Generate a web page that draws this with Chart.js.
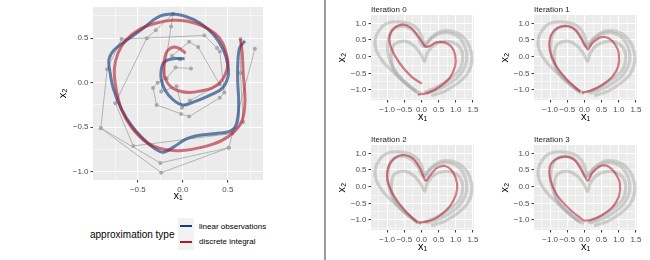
<!DOCTYPE html>
<html>
<head>
<meta charset="utf-8">
<script src="https://cdn.jsdelivr.net/npm/chart.js@4.4.1/dist/chart.umd.min.js"></script>
<style>
  html, body { margin: 0; padding: 0; background: #fff; }
  #wrap { position: relative; width: 650px; height: 260px; overflow: hidden; font-family: "Liberation Sans", Arial, sans-serif; }
  canvas { position: absolute; }
  .divider { position: absolute; left: 324px; top: 0; width: 2px; height: 260px; background: #9c9c9c; }
  .leg-title { position: absolute; left: 90px; top: 229px; font-size: 10px; line-height: 12px; color: #000; white-space: nowrap; }
  .leg-key { position: absolute; left: 178px; width: 16px; height: 16px; background: #F2F2F2; }
  .leg-key span { position: absolute; left: 2px; top: 7px; width: 12px; height: 2px; }
  .leg-label { position: absolute; left: 199px; font-size: 8px; line-height: 10px; color: #000; white-space: nowrap; }
</style>
</head>
<body>
<div id="wrap">
  <canvas id="main" width="300" height="205" style="left:0;top:0"></canvas>
  <canvas id="it0" width="160" height="130" style="left:330px;top:0"></canvas>
  <canvas id="it1" width="160" height="130" style="left:493px;top:0"></canvas>
  <canvas id="it2" width="160" height="130" style="left:330px;top:130px"></canvas>
  <canvas id="it3" width="160" height="130" style="left:493px;top:130px"></canvas>
  <div class="divider"></div>
  <div class="leg-title">approximation type</div>
  <div class="leg-key" style="top:218px"><span style="background:#163E7D"></span></div>
  <div class="leg-key" style="top:234px"><span style="background:#B2182B"></span></div>
  <div class="leg-label" style="top:221.5px">linear observations</div>
  <div class="leg-label" style="top:236.5px">discrete integral</div>
</div>
<script>
const FONT = '"Liberation Sans", Arial, sans-serif';

// left panel: spiral
const linearObs = [[0.02,0.27],[-0.11,0.27],[-0.21,0.23],[-0.24,0.14],[-0.24,0.04],[-0.20,-0.08],[-0.11,-0.19],[0.00,-0.25],[0.11,-0.22],[0.28,-0.15],[0.43,-0.07],[0.50,0.06],[0.50,0.20],[0.45,0.37],[0.34,0.54],[0.19,0.67],[0.04,0.74],[-0.11,0.77],[-0.27,0.74],[-0.44,0.61],[-0.59,0.50],[-0.76,0.37],[-0.82,0.26],[-0.81,0.13],[-0.77,-0.07],[-0.68,-0.30],[-0.57,-0.48],[-0.44,-0.63],[-0.31,-0.74],[-0.22,-0.78],[-0.10,-0.72],[0.04,-0.63],[0.19,-0.59],[0.37,-0.57],[0.53,-0.54],[0.60,-0.46],[0.62,-0.22],[0.61,0.00],[0.61,0.20],[0.63,0.39],[0.69,0.47]];
const discreteInt = [[0.03,0.33],[-0.03,0.38],[-0.10,0.40],[-0.17,0.36],[-0.20,0.28],[-0.21,0.17],[-0.20,0.06],[-0.14,-0.04],[-0.05,-0.09],[0.08,-0.11],[0.21,-0.09],[0.32,-0.06],[0.41,0.00],[0.47,0.09],[0.50,0.20],[0.49,0.30],[0.44,0.45],[0.36,0.55],[0.21,0.64],[0.05,0.69],[-0.12,0.70],[-0.29,0.67],[-0.48,0.60],[-0.63,0.48],[-0.72,0.33],[-0.76,0.15],[-0.74,-0.07],[-0.68,-0.30],[-0.57,-0.50],[-0.40,-0.67],[-0.20,-0.75],[0.00,-0.76],[0.23,-0.72],[0.43,-0.65],[0.58,-0.54],[0.66,-0.42],[0.69,-0.20],[0.67,0.11],[0.66,0.33],[0.64,0.49]];
const obsPath1 = [[0.09,0.16],[-0.08,0.17],[-0.18,0.05],[-0.28,0.00],[-0.33,-0.06],[-0.29,-0.25],[-0.02,-0.35],[0.07,-0.38],[0.41,-0.17],[0.46,-0.11],[0.41,0.35],[0.38,0.39],[0.24,0.53],[-0.68,0.49],[-0.84,0.15],[-0.91,-0.51],[-0.24,-1.01],[0.51,-0.73],[0.80,0.38]];
const obsPath2 = [[-0.03,0.26],[-0.12,0.30],[0.07,0.46],[0.17,0.40],[0.41,-0.02],[0.08,-0.20],[-0.01,-0.28],[-0.07,-0.04],[-0.24,-0.10],[-0.13,0.63],[-0.11,0.77],[-0.30,0.59],[-0.40,0.50],[-0.75,-0.23],[-0.55,-0.71],[0.55,-0.57],[0.67,-0.44],[0.64,0.11],[0.64,0.49]];
const obsPath3 = [[-0.91,-0.51],[-0.25,-0.90],[0.51,-0.73]];

// right panels: hearts (grey = same observations in every panel)
const heartGrey1 = [[-0.11,-1.09],[-0.40,-0.84],[-0.79,-0.49],[-1.13,-0.14],[-1.32,0.21],[-1.35,0.51],[-1.22,0.81],[-0.98,1.01],[-0.50,1.03],[-0.20,0.91],[-0.01,0.66],[0.11,0.31],[0.28,0.56],[0.57,0.76],[0.91,0.76],[1.20,0.61],[1.40,0.31],[1.47,-0.09],[1.35,-0.49],[1.06,-0.79],[0.67,-1.04],[0.28,-1.17]];
const heartGrey2 = [[-0.16,-1.04],[-0.50,-0.74],[-0.79,-0.39],[-0.96,0.01],[-0.98,0.41],[-0.88,0.76],[-0.64,0.91],[-0.35,0.86],[-0.11,0.61],[0.04,0.31],[0.23,0.51],[0.52,0.69],[0.82,0.71],[1.11,0.56],[1.28,0.26],[1.32,-0.09],[1.20,-0.44],[0.91,-0.74],[0.52,-0.97],[0.14,-1.09]];
const heartGrey3 = [[-0.01,-1.11],[-0.30,-0.94],[-0.64,-0.64],[-0.83,-0.34],[-0.88,0.01],[-0.83,0.31],[-0.69,0.43],[-0.45,0.46],[-0.20,0.31],[-0.01,0.06],[0.09,-0.14],[0.17,0.11],[0.38,0.36],[0.67,0.46],[0.96,0.41],[1.16,0.21],[1.20,-0.09],[1.11,-0.39],[0.86,-0.64],[0.48,-0.89],[0.09,-1.07]];
const iterRed0 = [[0.01,-0.81],[-0.30,-0.59],[-0.64,-0.19],[-0.88,0.26],[-0.93,0.61],[-0.79,0.86],[-0.54,0.96],[-0.30,0.86],[-0.06,0.56],[0.11,0.31],[0.23,0.31],[0.43,0.43],[0.67,0.43],[0.86,0.31],[0.98,0.06],[0.98,-0.29],[0.82,-0.64],[0.52,-0.91],[0.18,-1.09],[-0.11,-1.14]];
const iterRed1 = [[-0.12,-1.05],[-0.50,-0.70],[-0.84,-0.25],[-1.01,0.20],[-0.99,0.60],[-0.80,0.85],[-0.50,0.92],[-0.26,0.80],[-0.07,0.50],[0.10,0.22],[0.22,0.40],[0.47,0.58],[0.71,0.55],[0.90,0.35],[1.00,0.10],[0.98,-0.30],[0.81,-0.60],[0.47,-0.88],[0.17,-1.02],[-0.07,-1.08]];
const iterRed2 = [[-0.11,-1.08],[-0.45,-0.75],[-0.79,-0.30],[-0.99,0.20],[-0.96,0.60],[-0.79,0.85],[-0.55,0.95],[-0.25,0.85],[-0.04,0.55],[0.12,0.18],[0.24,0.32],[0.43,0.55],[0.68,0.62],[0.87,0.50],[1.00,0.25],[1.04,-0.05],[0.94,-0.40],[0.73,-0.70],[0.41,-0.95],[0.14,-1.05],[-0.09,-1.08]];
const iterRed3 = [[-0.02,-1.02],[-0.41,-0.70],[-0.80,-0.25],[-0.99,0.20],[-1.01,0.60],[-0.84,0.82],[-0.55,0.90],[-0.29,0.80],[-0.10,0.52],[0.10,0.18],[0.22,0.40],[0.47,0.62],[0.71,0.60],[0.90,0.40],[1.03,0.10],[1.00,-0.30],[0.81,-0.62],[0.47,-0.88],[0.17,-1.00],[-0.02,-1.02]];

// tick breaks
const mainXBreaks = [-0.5, 0, 0.5];
const mainYBreaks = [-1, -0.5, 0, 0.5];
const panelXBreaks = [-1, -0.5, 0, 0.5, 1, 1.5];
const panelYBreaks = [-1, -0.5, 0, 0.5, 1];
const iterTitles = ['Iteration 0', 'Iteration 1', 'Iteration 2', 'Iteration 3'];

const xy = pts => pts.map(([x, y]) => ({x, y}));
const fmt = v => (v < 0 ? '\u2212' : '') + Math.abs(v).toFixed(1);

function buildTicks(breaks, min, max) {
    const vals = breaks.slice();
    breaks.forEach(b => {
        [b - 0.25, b + 0.25].forEach(m => {
            if (m > min && m < max && !vals.some(v => Math.abs(v - m) < 1e-9)) vals.push(m);
        });
    });
    return vals.sort((a, b) => a - b).map(value => ({value}));
}

function makeAxis(min, max, breaks, size, titleText, titlePad) {
    const major = v => breaks.some(b => Math.abs(b - v) < 1e-9);
    return {
        type: 'linear', min, max,
        afterBuildTicks: s => { s.ticks = buildTicks(breaks, min, max); },
        afterFit: s => { if (s.isHorizontal()) s.height = size; else s.width = size; },
        ticks: {
            autoSkip: false, maxRotation: 0, includeBounds: false, padding: 2,
            color: '#4D4D4D', font: {family: FONT, size: 8},
            callback: v => major(v) ? fmt(v) : ''
        },
        grid: {
            color: '#FFFFFF',
            lineWidth: c => (c.tick && major(c.tick.value)) ? 1.1 : 0.55,
            tickColor: c => (c.tick && major(c.tick.value)) ? '#333333' : 'rgba(0,0,0,0)',
            tickLength: 2.5, tickWidth: 1
        },
        border: {display: false},
        title: {display: true, text: titleText, color: '#000', font: {family: FONT, size: 11}, padding: titlePad}
    };
}

// grey panel background
const panelBg = {
    id: 'panelBg',
    beforeDraw(chart) {
        const {ctx, chartArea: a} = chart;
        ctx.save();
        ctx.fillStyle = '#EBEBEB';
        ctx.fillRect(a.left, a.top, a.right - a.left, a.bottom - a.top);
        ctx.restore();
    }
};

function curve(pts, color, width, tension) {
    return {data: xy(pts), showLine: true, borderColor: color, borderWidth: width, pointRadius: 0, tension: tension, fill: false};
}

function obsLine(pts) {
    return {data: xy(pts), showLine: true, borderColor: '#A3A3A3', borderWidth: 0.8, pointRadius: 2, pointBackgroundColor: '#A8A8A8', pointBorderWidth: 0, tension: 0};
}

new Chart(document.getElementById('main'), {
    type: 'scatter',
    data: {
        datasets: [
            curve(discreteInt, 'rgba(178,24,43,0.6)', 3, 0.35),
            curve(linearObs, 'rgba(30,70,130,0.68)', 3, 0.35),
            obsLine(obsPath1),
            obsLine(obsPath2),
            obsLine(obsPath3)
        ]
    },
    options: {
        responsive: false, animation: false, events: [], devicePixelRatio: 1,
        layout: {padding: {left: 55, top: 5, right: 37, bottom: 0}},
        scales: {
            x: makeAxis(-0.997, 0.89, mainXBreaks, 25, 'x\u2081', {top: 0, bottom: 2}),
            y: makeAxis(-1.092, 0.852, mainYBreaks, 38, 'x\u2082', {top: 1.5, bottom: 0})
        },
        plugins: {legend: {display: false}, tooltip: {enabled: false}}
    },
    plugins: [panelBg]
});

[iterRed0, iterRed1, iterRed2, iterRed3].forEach((red, i) => {
    new Chart(document.getElementById('it' + i), {
        type: 'scatter',
        data: {
            datasets: [
                curve(red, 'rgba(178,24,43,0.55)', 2.2, 0.3),
                curve(heartGrey1, 'rgba(170,170,170,0.5)', 3.2, 0.3),
                curve(heartGrey2, 'rgba(170,170,170,0.5)', 3.2, 0.3),
                curve(heartGrey3, 'rgba(170,170,170,0.5)', 3.2, 0.3)
            ]
        },
        options: {
            responsive: false, animation: false, events: [], devicePixelRatio: 1,
            layout: {padding: {left: 5, top: 0, right: 16, bottom: 0}},
            scales: {
                x: makeAxis(-1.47, 1.53, panelXBreaks, 30, 'x\u2081', {top: 0, bottom: 6}),
                y: makeAxis(-1.3, 1.25, panelYBreaks, 36, 'x\u2082', {top: 0.5, bottom: 0})
            },
            plugins: {
                legend: {display: false}, tooltip: {enabled: false},
                title: {
                    display: true, text: iterTitles[i], align: 'start', fullSize: false,
                    color: '#1A1A1A', font: {family: FONT, size: 8, weight: 'normal'},
                    padding: {top: 4.5, bottom: 0.9}
                }
            }
        },
        plugins: [panelBg]
    });
});
</script>
</body>
</html>
